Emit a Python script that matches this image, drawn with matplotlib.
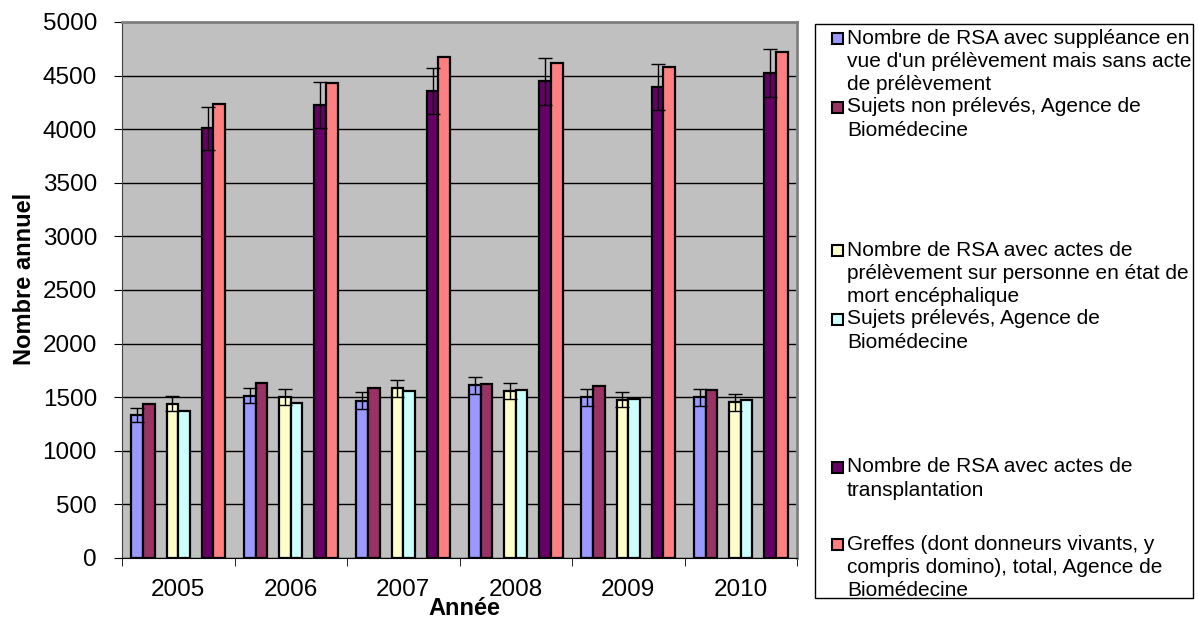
import matplotlib.pyplot as plt
import numpy as np
from matplotlib.patches import Rectangle

plt.rcParams["font.family"] = ["Liberation Sans", "DejaVu Sans"]

years = ["2005", "2006", "2007", "2008", "2009", "2010"]

rsa_suppleance = [1336, 1513, 1469, 1613, 1500, 1500]
rsa_suppleance_err = [65, 70, 75, 80, 80, 80]
non_preleves_abm = [1436, 1632, 1588, 1623, 1607, 1571]
rsa_prelevement = [1439, 1503, 1582, 1560, 1478, 1452]
rsa_prelevement_err = [70, 78, 80, 77, 67, 77]
preleves_abm = [1375, 1446, 1560, 1566, 1484, 1478]
rsa_transplant = [4007, 4228, 4358, 4446, 4391, 4525]
rsa_transplant_err = [200, 215, 215, 222, 215, 222]
greffes_abm = [4239, 4430, 4674, 4620, 4581, 4718]

labels = [
    "Nombre de RSA avec suppléance en\nvue d'un prélèvement mais sans acte\nde prélèvement",
    "Sujets non prélevés, Agence de\nBiomédecine",
    "Nombre de RSA avec actes de\nprélèvement sur personne en état de\nmort encéphalique",
    "Sujets prélevés, Agence de\nBiomédecine",
    "Nombre de RSA avec actes de\ntransplantation",
    "Greffes (dont donneurs vivants, y\ncompris domino), total, Agence de\nBiomédecine",
]
colors = ["#9999FF", "#993366", "#FFFFCC", "#CCFFFF", "#660066", "#FF8080"]

series = [rsa_suppleance, non_preleves_abm, rsa_prelevement,
          preleves_abm, rsa_transplant, greffes_abm]
errors = [rsa_suppleance_err, None, rsa_prelevement_err, None, rsa_transplant_err, None]

W, H = 1198, 618
fig = plt.figure(figsize=(W / 100, H / 100), dpi=100)
ax = fig.add_axes([122 / W, (H - 558) / H, (797 - 122) / W, (558 - 22) / H])
ax.set_facecolor("#C0C0C0")

x = np.arange(len(years))
w = 0.104
slots = [-3.5, -2.5, -0.5, 0.5, 2.5, 3.5]
for vals, err, col, s in zip(series, errors, colors, slots):
    pos = x + s * w
    ax.bar(pos, vals, w, color=col, edgecolor="black", linewidth=1.6, zorder=3)
    if err is not None:
        ax.errorbar(pos, vals, yerr=err, fmt="none", ecolor="black",
                    elinewidth=1, capsize=5, capthick=1, zorder=4)

ax.set_xlim(-0.5, 5.5)
ax.set_ylim(0, 5000)
ax.set_yticks(np.arange(0, 5001, 500))
ax.yaxis.grid(True, color="black", linewidth=1, zorder=1)
ax.tick_params(axis="y", labelsize=17.5, length=6, direction="out", pad=12)
ax.set_xticks(x)
ax.set_xticklabels(years, fontsize=17.5)
ax.set_xticks(np.arange(-0.5, 5.6, 1), minor=True)
ax.tick_params(axis="x", which="major", length=0, pad=15)
ax.tick_params(axis="x", which="minor", length=6, direction="out")

for side in ("top", "right"):
    ax.spines[side].set_color("#808080")
    ax.spines[side].set_linewidth(2)
ax.spines["left"].set_color("#404040")
ax.spines["bottom"].set_color("black")

ax.set_ylabel("Nombre annuel", fontsize=17, fontweight="bold")
ax.yaxis.set_label_coords(-0.128, 0.52)
ax.set_xlabel("Année", fontsize=17, fontweight="bold")
ax.xaxis.set_label_coords(0.508, -0.072)

# legend drawn by hand (Excel leaves gaps for empty series)
fig.patches.append(Rectangle((815 / W, (H - 598) / H), (1193 - 815) / W, (598 - 24) / H,
                             transform=fig.transFigure, fill=False,
                             edgecolor="black", linewidth=1))
entry_y = [39, 108, 251, 320, 468, 545]
for lab, col, yy in zip(labels, colors, entry_y):
    fig.patches.append(Rectangle((832 / W, (H - yy - 5) / H), 11 / W, 11 / H,
                                 transform=fig.transFigure, facecolor=col,
                                 edgecolor="black", linewidth=1.5))
    fig.text(847 / W, (H - yy + 10.5) / H, lab, fontsize=15, va="top", ha="left",
             linespacing=1.29)

fig.savefig("out.png", dpi=100)
